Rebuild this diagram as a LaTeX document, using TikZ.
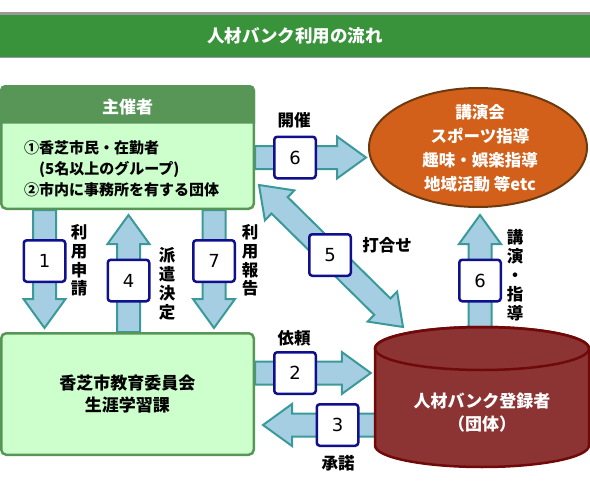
\documentclass[tikz,border=0pt]{standalone}
\usepackage{fontspec}
\setmainfont{Noto Sans CJK JP}
\newfontfamily\numfont{DejaVu Sans}
\usetikzlibrary{calc,shapes.geometric}
\pgfdeclarelayer{back}
\pgfsetlayers{back,main}

\definecolor{bargreen}{RGB}{56,147,58}
\definecolor{bargray}{RGB}{153,153,153}
\definecolor{headgreen}{RGB}{88,150,88}
\definecolor{paleg}{RGB}{204,255,204}
\definecolor{evorange}{RGB}{210,96,26}
\definecolor{evbrown}{RGB}{107,58,15}
\definecolor{bankred}{RGB}{140,51,51}
\definecolor{bankdark}{RGB}{112,10,10}
\definecolor{arrfill}{RGB}{166,206,227}
\definecolor{arrline}{RGB}{58,154,154}
\definecolor{numblue}{RGB}{16,16,143}

\newcommand{\fatarrow}[2]{%
  \coordinate (fa-b) at ($(#2)!29pt!(#1)$);
  \filldraw[arrbody] ($(#1)!11.5pt!-90:(#2)$) -- ($(fa-b)!11.5pt!-90:(#2)$) -- ($(fa-b)!21pt!-90:(#2)$) -- (#2)
    -- ($(fa-b)!21pt!90:(#2)$) -- ($(fa-b)!11.5pt!90:(#2)$) -- ($(#1)!11.5pt!90:(#2)$) -- cycle;}
\newcommand{\fatarrowboth}[2]{%
  \coordinate (fa-p) at ($(#2)!29pt!(#1)$);
  \coordinate (fa-q) at ($(#1)!29pt!(#2)$);
  \filldraw[arrbody] (#1) -- ($(fa-q)!21pt!-90:(#2)$) -- ($(fa-q)!11.5pt!-90:(#2)$) -- ($(fa-p)!11.5pt!-90:(#2)$)
    -- ($(fa-p)!21pt!-90:(#2)$) -- (#2) -- ($(fa-p)!21pt!90:(#2)$) -- ($(fa-p)!11.5pt!90:(#2)$)
    -- ($(fa-q)!11.5pt!90:(#2)$) -- ($(fa-q)!21pt!90:(#2)$) -- cycle;}

\begin{document}
\begin{tikzpicture}[x=1pt,y=-1pt,
   greenbox/.style={draw=headgreen,fill=paleg,line width=2.5,rounded corners=5},
   numbox/.style={draw=numblue,fill=white,line width=2.5,rounded corners=3,minimum width=41.5,minimum height=41.5,inner sep=0,font=\numfont\fontsize{18}{18}\selectfont},
   arrbody/.style={fill=arrfill,draw=arrline,line width=2},
   lbl/.style={inner sep=0,align=center,font=\bfseries\fontsize{16.5}{18.7}\selectfont},
   whitetext/.style={text=white,inner sep=0,align=center,font=\bfseries\fontsize{17}{23}\selectfont}]
  \useasboundingbox (0,0) rectangle (590,490);
  % title bar
  \fill[bargray] (0,12) rectangle (590,15);
  \fill[bargreen] (0,15) rectangle (590,57);
  \fill[bargray] (0,57) rectangle (590,58);
  \node[whitetext,font=\bfseries\fontsize{17.5}{20}\selectfont] (title) at (295,36) {人材バンク利用の流れ};

  % organizer
  \node[greenbox,minimum width=252.5,minimum height=122.5] (org) at (127.5,147.5) {};
  \fill[headgreen,rounded corners=5] ($(org.north west)+(0,38.5)$) -- (org.north west) -- (org.north east) -- ($(org.north east)+(0,38.5)$);
  \node[whitetext] (orghead) at (127.5,107) {主催者};
  \node[anchor=west,align=left,inner sep=0,font=\bfseries\fontsize{15}{21}\selectfont] (members) at (24,169)
     {①香芝市民・在勤者\\\hspace*{1em}(5名以上のグループ)\\②市内に事務所を有する団体};

  % board of education
  \node[greenbox,minimum width=252.5,minimum height=121.5,align=center,font=\bfseries\fontsize{17}{22}\selectfont] (board) at (127.5,394)
     {香芝市教育委員会\\生涯学習課};

  % activities
  \node[ellipse,draw=evbrown,fill=evorange,line width=2,minimum width=218,minimum height=119] (events) at (478,147.5) {};
  \node[whitetext,font=\bfseries\fontsize{16.5}{24}\selectfont] (evtext) at (480,148) {講演会\\スポーツ指導\\趣味・娯楽指導\\地域活動 等etc};

  % registered groups
  \filldraw[fill=bankred,draw=bankdark,line width=2.5] (375,348.5) -- (375,445.5) arc[start angle=180,end angle=0,x radius=107,y radius=21.5]
     -- (589,348.5) arc[start angle=0,end angle=-180,x radius=107,y radius=21.5] -- cycle;
  \draw[draw=bankdark,line width=2.5] (482,348.5) ellipse[x radius=107,y radius=21.5];
  \node[minimum width=214,minimum height=140,inner sep=0] (bank) at (482,397) {};
  \node[whitetext] (banktext) at (482,413) {人材バンク登録者\\（団体）};

  % numbers
  \node[numbox] (b6top) at (295,157.5) {6};
  \node[numbox] (b1) at (44.5,261) {1};
  \node[numbox] (b4) at (128.5,280.5) {4};
  \node[numbox] (b7) at (214,261) {7};
  \node[numbox] (b5) at (330,255) {5};
  \node[numbox] (b6r) at (480,280.5) {6};
  \node[numbox] (b2) at (295,373) {2};
  \node[numbox] (b3) at (337.5,425) {3};

  % labels
  \node[lbl] (lhold) at (294,120) {開催};
  \node[lbl] (lapply) at (79,260.5) {利\\用\\申\\請};
  \node[lbl,font=\bfseries\fontsize{16.5}{19}\selectfont] (ldecide) at (167,283.5) {派\\遣\\決\\定};
  \node[lbl] (lreport) at (250,260.5) {利\\用\\報\\告};
  \node[lbl] (lmeet) at (387,245) {打合せ};
  \node[lbl,font=\bfseries\fontsize{16.5}{19}\selectfont] (lteach) at (515,275.5) {講\\演\\・\\指\\導};
  \node[lbl] (lask) at (294,338) {依頼};
  \node[lbl] (lok) at (338,463) {承諾};

  % block arrows
  \begin{pgfonlayer}{back}
    \coordinate (a6s) at (org.east |- b6top);
    \coordinate (a6e) at ($(events.west |- b6top)+(-2,0)$);
    \fatarrow{a6s}{a6e}
    \coordinate (a1s) at (org.south -| b1);
    \coordinate (a1e) at ($(board.north -| b1)+(0,-4)$);
    \fatarrow{a1s}{a1e}
    \coordinate (a4s) at (board.north -| b4);
    \coordinate (a4e) at ($(org.south -| b4)+(0,5)$);
    \fatarrow{a4s}{a4e}
    \coordinate (a7s) at (org.south -| b7);
    \coordinate (a7e) at ($(board.north -| b7)+(0,-4)$);
    \fatarrow{a7s}{a7e}
    \coordinate (a5s) at (259,185);
    \coordinate (a5e) at (403,327);
    \fatarrowboth{a5s}{a5e}
    \coordinate (a6rs) at ($(bank.north -| b6r)+(0,15)$);
    \coordinate (a6re) at ($(events.south -| b6r)+(0,7)$);
    \fatarrow{a6rs}{a6re}
    \coordinate (a2s) at (board.east |- b2);
    \coordinate (a2e) at ($(bank.west |- b2)+(-4,0)$);
    \fatarrow{a2s}{a2e}
    \coordinate (a3s) at ($(bank.west |- b3)+(6,0)$);
    \coordinate (a3e) at ($(board.east |- b3)+(8,0)$);
    \fatarrow{a3s}{a3e}
  \end{pgfonlayer}
\end{tikzpicture}
\end{document}
